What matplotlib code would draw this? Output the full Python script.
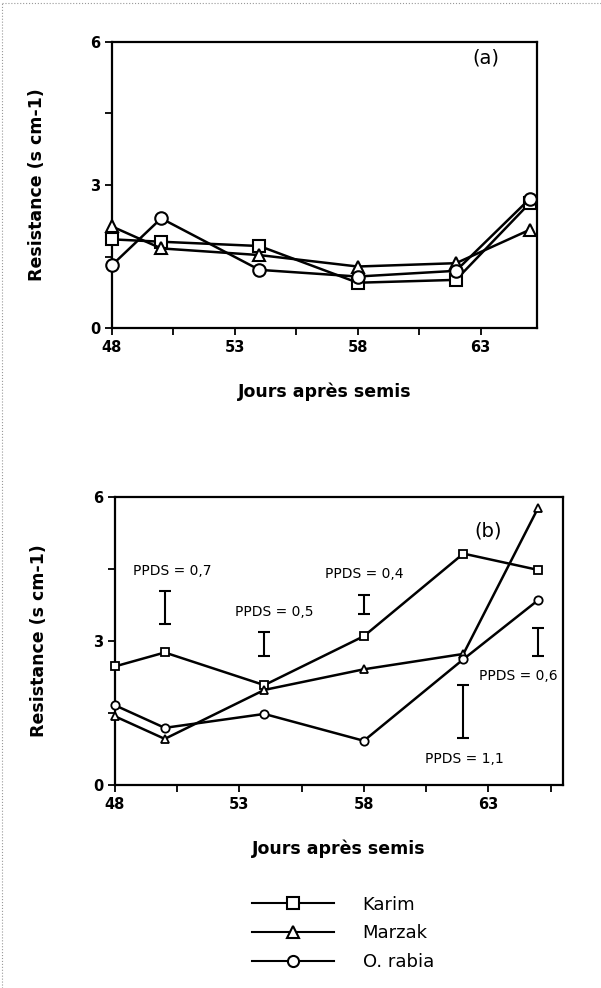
import numpy as np
import matplotlib.pyplot as plt
from matplotlib.lines import Line2D

# days after sowing
days = [48, 50, 54, 58, 62, 65]

# (a) resistance, s cm-1
karim_a = [1.86, 1.81, 1.72, 0.95, 1.01, 2.62]
marzak_a = [2.13, 1.67, 1.53, 1.29, 1.36, 2.06]
rabia_a = [1.32, 2.30, 1.22, 1.08, 1.20, 2.71]

# (b) resistance, s cm-1
karim_b = [2.47, 2.76, 2.08, 3.10, 4.82, 4.48]
marzak_b = [1.43, 0.96, 1.98, 2.41, 2.73, 5.77]
rabia_b = [1.66, 1.19, 1.48, 0.92, 2.62, 3.85]

# PPDS bars in (b): day, centre, value
ppds_day = [50, 54, 58, 62, 65]
ppds_mid = [3.70, 2.93, 3.76, 1.53, 2.98]
ppds_val = [0.7, 0.5, 0.4, 1.1, 0.6]
ppds_txt = ['PPDS = 0,7', 'PPDS = 0,5', 'PPDS = 0,4', 'PPDS = 1,1', 'PPDS = 0,6']
ppds_lab_pos = [(50.3, 4.45), (54.4, 3.6), (58.0, 4.4), (62.05, 0.55), (64.2, 2.27)]

names = ['Karim', 'Marzak', 'O. rabia']
markers = ['s', '^', 'o']

fig = plt.figure(figsize=(6.01, 9.88), dpi=100)

ax1 = fig.add_axes([0.1864, 0.668, 0.7072, 0.2895])
ax2 = fig.add_axes([0.1913, 0.2055, 0.7454, 0.2915])


def style(ax, xmax):
    ax.set_xlim(48, xmax)
    ax.set_ylim(0, 6)
    ax.set_xticks([48, 53, 58, 63])
    ax.set_xticks([50.5, 55.5, 60.5, 65.5][:4 if xmax > 65.5 else 3], minor=True)
    ax.set_yticks([0, 3, 6])
    ax.set_yticks([1.5, 4.5], minor=True)
    ax.tick_params(which='both', direction='out', width=1.3, length=5,
                   labelsize=10.5)
    for t in ax.get_xticklabels() + ax.get_yticklabels():
        t.set_fontweight('bold')
    for s in ax.spines.values():
        s.set_linewidth(1.6)
    ax.set_xlabel('Jours après semis', fontsize=12.5, fontweight='bold',
                  labelpad=20)
    ax.set_ylabel('Resistance (s cm-1)', fontsize=12.5, fontweight='heavy',
                  labelpad=32)


for ys, m in zip([karim_a, marzak_a, rabia_a], markers):
    ax1.plot(days, ys, color='black', lw=1.8, marker=m, ms=9,
             mfc='white', mec='black', mew=1.5, clip_on=False, zorder=3)
style(ax1, 65.3)
ax1.text(63.2, 5.66, '(a)', fontsize=14, ha='center', va='center')

for ys, m in zip([karim_b, marzak_b, rabia_b], markers):
    ax2.plot(days, ys, color='black', lw=1.8, marker=m, ms=6,
             mfc='white', mec='black', mew=1.3, clip_on=False, zorder=3)
style(ax2, 66.0)
ax2.text(63.0, 5.3, '(b)', fontsize=14, ha='center', va='center')

ax2.errorbar(ppds_day, ppds_mid, yerr=np.array(ppds_val) / 2, fmt='none',
             ecolor='black', elinewidth=1.5, capsize=4, capthick=1.5)
for txt, (px, py) in zip(ppds_txt, ppds_lab_pos):
    ax2.text(px, py, txt, fontsize=10, ha='center', va='center')

handles = [Line2D([], [], color='black', lw=1.5, marker=m, ms=8,
                  mfc='white', mec='black', mew=1.5) for m in markers]
fig.legend(handles, names, loc='upper left', bbox_to_anchor=(0.393, 0.11),
           frameon=False, fontsize=13, handlelength=4.5, handletextpad=1.6,
           labelspacing=0.6)

# dotted scan border
fig.add_artist(Line2D([0.004, 0.004], [0, 0.997], transform=fig.transFigure,
                      color='0.6', lw=0.8, ls=':'))
fig.add_artist(Line2D([0.004, 1], [0.997, 0.997], transform=fig.transFigure,
                      color='0.6', lw=0.8, ls=':'))

fig.savefig('out.png', dpi=100)
